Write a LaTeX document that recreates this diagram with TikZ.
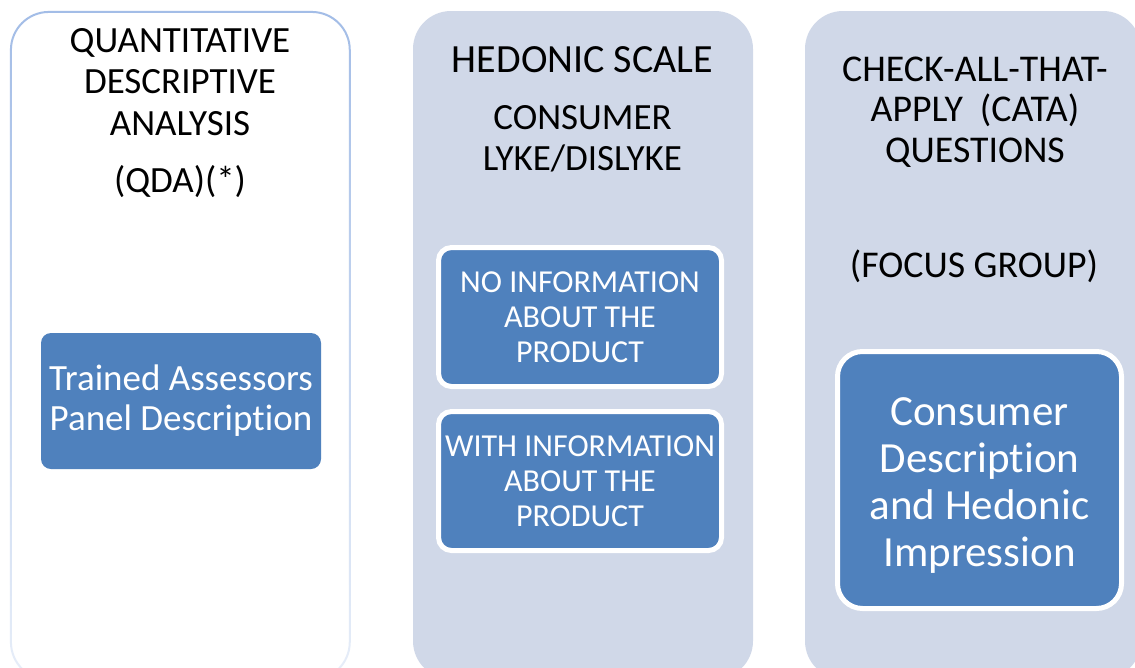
\documentclass[tikz,border=0pt]{standalone}
\usepackage{fontspec}
\setmainfont{Carlito}[Ligatures={NoCommon,NoRequired,NoContextual}]
\usetikzlibrary{fadings}
\definecolor{colfill}{HTML}{D0D8E8}
\definecolor{boxfill}{HTML}{4F81BD}
\definecolor{colline}{HTML}{A3BDE7}
\tikzfading[name=borderfade, top color=transparent!0, bottom color=transparent!75]
\tikzset{
  column/.style={rounded corners=38pt},
  titletext/.style={align=center, inner sep=0pt, text=black, font=\fontsize{37}{41.5}\selectfont},
  bluebox/.style={fill=boxfill, text=white, align=center, inner sep=0pt},
  framedbox/.style={bluebox, draw=white, line width=5pt},
}
\begin{document}
\begin{tikzpicture}[x=1pt,y=-1pt]
\useasboundingbox (0,0) rectangle (1135,667);
\clip (0,0) rectangle (1135,667);
\fill[white] (0,0) rectangle (1135,667);
% columns
\draw[colline, line width=2pt, column, path fading=borderfade] (11,12) rectangle (350,680);
\fill[colfill, column] (413,11) rectangle (753,679);
\fill[colfill, column] (805,11) rectangle (1141,679);
% column 1
\node[titletext] (qdaT) at (180,82) {QUANTITATIVE\\DESCRIPTIVE\\ANALYSIS};
\node[titletext] (qdaA) at (180,182) {(QDA)(*)};
\node[bluebox, rounded corners=10pt, minimum width=280pt, minimum height=136pt,
      font=\fontsize{37}{40}\selectfont] (trained) at (181,401) {Trained Assessors\\Panel Description};
% column 2
\node[titletext, font=\fontsize{40}{44}\selectfont] (hedT) at (582.5,60) {HEDONIC SCALE};
\node[titletext] (hedS) at (582.5,139) {CONSUMER\\LYKE/DISLYKE};
\node[framedbox, rounded corners=13pt, minimum width=283pt, minimum height=139pt,
      font=\fontsize{32}{35}\selectfont] (noinfo) at (580,317) {NO INFORMATION\\ABOUT THE\\PRODUCT};
\node[framedbox, rounded corners=13pt, minimum width=283pt, minimum height=139pt,
      font=\fontsize{32}{35}\selectfont] (withinfo) at (580,481) {WITH INFORMATION\\ABOUT THE\\PRODUCT};
% column 3
\node[titletext, font=\fontsize{37.8}{40.5}\selectfont] (cataT) at (975,112) {CHECK-ALL-THAT-\\APPLY\ \ (CATA)\\QUESTIONS};
\node[titletext, font=\fontsize{37.8}{40.5}\selectfont] (focus) at (974,266) {(FOCUS GROUP)};
\node[framedbox, rounded corners=25pt, minimum width=284pt, minimum height=257pt] (consumer) at (979.5,480) {};
\node[align=center, inner sep=0pt, text=white, font=\fontsize{43}{47}\selectfont]
      (consumerT) at ([yshift=-6pt]consumer.center) {Consumer\\Description\\and Hedonic\\Impression};
\end{tikzpicture}
\end{document}
